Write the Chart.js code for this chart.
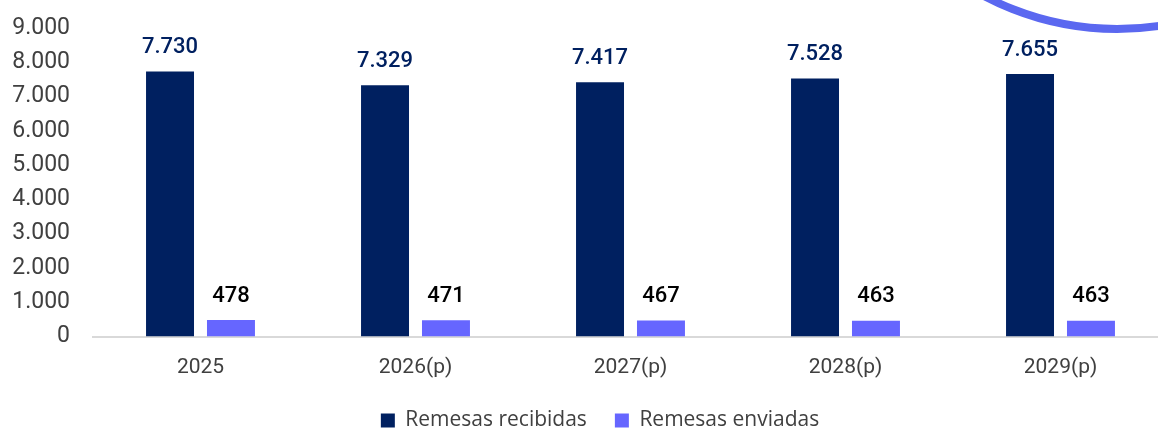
<!DOCTYPE html>
<html>
<head>
<meta charset="utf-8">
<script src="https://cdn.jsdelivr.net/npm/chart.js@4.4.1/dist/chart.umd.min.js"></script>
<style>
  html, body { margin: 0; padding: 0; background: #ffffff; overflow: hidden; width: 1158px; height: 430px; }
  #wrap { position: absolute; left: 0; top: 0; width: 1200px; height: 441px; }
</style>
</head>
<body>
<div id="wrap"><canvas id="c" width="1200" height="441"></canvas></div>
<script>
const categories = ['2025', '2026(p)', '2027(p)', '2028(p)', '2029(p)'];
const recibidas = [7730, 7329, 7417, 7528, 7655];
const enviadas = [478, 471, 467, 463, 463];
const seriesNames = ['Remesas recibidas', 'Remesas enviadas'];
const yTicks = [0, 1000, 2000, 3000, 4000, 5000, 6000, 7000, 8000, 9000];

const FONT = 'Roboto';
function fmt(v) {
  return String(Math.round(v)).replace(/\B(?=(\d{3})+(?!\d))/g, '.');
}

const labelPlugin = {
  id: 'barLabels',
  afterDatasetsDraw(chart) {
    const ctx = chart.ctx;
    const colors = ['#002060', '#000000'];
    chart.data.datasets.forEach((ds, di) => {
      const meta = chart.getDatasetMeta(di);
      meta.data.forEach((bar, i) => {
        ctx.save();
        ctx.font = '500 22px ' + FONT;
        ctx.fillStyle = colors[di];
        ctx.textAlign = 'center';
        ctx.textBaseline = 'middle';
        ctx.fillText(fmt(ds.data[i]), bar.x, bar.y - 24);
        ctx.restore();
      });
    });
  }
};

const arcPlugin = {
  id: 'decoArc',
  afterDraw(chart) {
    const ctx = chart.ctx;
    ctx.save();
    ctx.beginPath();
    ctx.arc(1117, -255, 284, 0, Math.PI);
    ctx.strokeStyle = '#5B68F0';
    ctx.lineWidth = 8;
    ctx.stroke();
    ctx.restore();
  }
};

new Chart(document.getElementById('c'), {
  type: 'bar',
  data: {
    labels: categories,
    datasets: [
      { label: seriesNames[0], data: recibidas, backgroundColor: '#002060', barPercentage: 0.787, categoryPercentage: 0.567 },
      { label: seriesNames[1], data: enviadas, backgroundColor: '#6666FF', barPercentage: 0.787, categoryPercentage: 0.567 }
    ]
  },
  options: {
    responsive: false,
    animation: false,
    events: [],
    layout: { padding: { left: 0, right: 0, top: 28, bottom: 0 } },
    plugins: {
      legend: {
        position: 'bottom',
        labels: {
          color: '#404040',
          font: { family: 'Open Sans', size: 21 },
          boxWidth: 14,
          boxHeight: 14,
          padding: 28
        }
      },
      tooltip: { enabled: false }
    },
    scales: {
      x: {
        grid: { display: false, drawTicks: false },
        border: { display: true, color: '#D9D9D9', width: 2 },
        ticks: { color: '#404040', font: { family: FONT, size: 21 }, padding: 19, maxRotation: 0 },
        afterFit(s) { s.height = 45.5; }
      },
      y: {
        min: 0, max: 9000,
        afterBuildTicks(s) { s.ticks = yTicks.map(v => ({ value: v })); },
        grid: { display: false, drawTicks: false },
        border: { display: false },
        ticks: { color: '#404040', font: { family: FONT, size: 23 }, padding: 23, callback: v => fmt(v) },
        afterFit(s) { s.width = 93; s.paddingTop = 0; s.paddingBottom = 0; }
      },
      yR: {
        position: 'right',
        display: true,
        grid: { display: false, drawTicks: false },
        border: { display: false },
        ticks: { display: false },
        afterFit(s) { s.width = 32; s.paddingTop = 0; s.paddingBottom = 0; }
      }
    }
  },
  plugins: [labelPlugin, arcPlugin]
});
</script>
</body>
</html>
